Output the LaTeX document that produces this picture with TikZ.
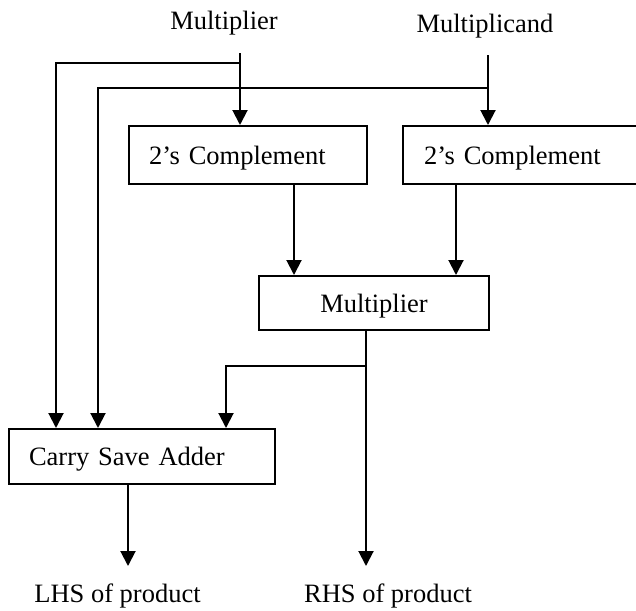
\documentclass[tikz,border=0pt]{standalone}
\usepackage{fontspec}
\setmainfont{Liberation Serif}
\usetikzlibrary{arrows.meta}
\begin{document}
\begin{tikzpicture}[x=1pt,y=-1pt,
  line width=2pt,
  every node/.style={font=\fontsize{26.5}{30}\selectfont},
  arr/.style={-{Triangle[length=15pt,width=15pt]}},
  blockbox/.style={draw, rectangle, line width=2pt, inner ysep=0pt,
    text height=20pt, text depth=2pt, align=left},
  lbl/.style={anchor=base, inner sep=0pt}]
\useasboundingbox (0,0) rectangle (636,610);
\clip (0,0) rectangle (636,610);
% labels
\node[lbl] (lmult) at (224,30) {Multiplier};
\node[lbl] (lmcand) at (485,33) {Multiplicand};
\node[lbl] (lhs) at (117.5,602) {LHS of product};
\node[lbl] (rhs) at (388,602) {RHS of product};
% boxes
\node[blockbox, anchor=north west, minimum height=58pt, inner xsep=20pt,
  text width=198pt] (c1) at (128,125) {2’s Complement};
\node[blockbox, anchor=north west, minimum height=58pt, inner xsep=21pt,
  text width=196pt] (c2) at (402,125) {2’s Complement};
\node[blockbox, anchor=north west, minimum height=54pt, minimum width=230pt,
  inner xsep=0pt, align=center] (mul) at (258,275) {Multiplier};
\node[blockbox, anchor=north west, minimum height=55pt, inner xsep=20pt,
  text width=226pt] (csa) at (8,428) {Carry Save Adder};
% coordinates
\coordinate (mpin) at (240,53);
\coordinate (mcin) at (488,55);
\coordinate (j1) at (240,63);
\coordinate (j2) at (488,88);
\coordinate (xa) at (56,0);
\coordinate (xb) at (98,0);
\coordinate (xc) at (294,0);
\coordinate (xd) at (456,0);
\coordinate (xe) at (366,0);
\coordinate (xf) at (226,0);
\coordinate (xg) at (128,0);
\coordinate (yo) at (0,566);
\coordinate (br) at (366,366);
% connectors
\draw[arr] (mpin) -- (mpin |- c1.north);
\draw[arr] (mcin) -- (mcin |- c2.north);
\draw[arr] (j1) -| (csa.north -| xa);
\draw[arr] (j2) -| (csa.north -| xb);
\draw[arr] (c1.south -| xc) -- (mul.north -| xc);
\draw[arr] (c2.south -| xd) -- (mul.north -| xd);
\draw[arr] (mul.south -| xe) -- (xe |- yo);
\draw[arr] (br) -| (csa.north -| xf);
\draw[arr] (csa.south -| xg) -- (xg |- yo);
\end{tikzpicture}
\end{document}
